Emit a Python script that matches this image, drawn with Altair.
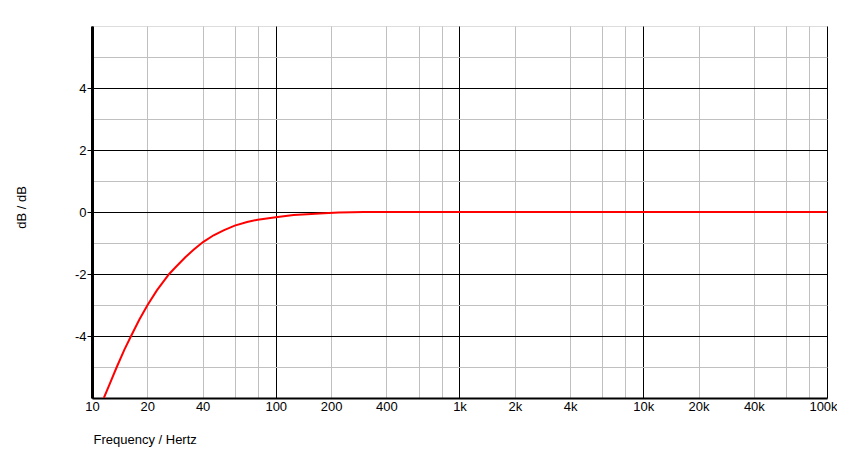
import altair as alt
import pandas as pd

# Frequency response (Hz, dB)
freq_hz = [11.6, 12.54, 13.64, 15.01, 16.32, 18.11, 20.03, 22.54, 26.3, 28.4, 32.2,
           35.7, 40.2, 45.9, 52.0, 59.8, 69.8, 79.8, 100.0, 125.0, 148.0, 183.0,
           220.0, 260.0, 300.0, 1000.0, 10000.0, 100000.0]
gain_db = [-6.0, -5.52, -5.0, -4.44, -4.0, -3.47, -3.01, -2.53, -2.0, -1.79, -1.46,
           -1.22, -0.97, -0.75, -0.59, -0.44, -0.32, -0.25, -0.17, -0.10, -0.07, -0.04,
           -0.02, -0.01, 0.0, 0.0, 0.0, 0.0]

x_grid_values = []
for dec in [10, 100, 1000, 10000]:
    for m in [1, 2, 4, 6, 8]:
        x_grid_values.append(dec * m)
x_grid_values.append(100000)
x_label_values = [10, 20, 40, 100, 200, 400, 1000, 2000, 4000, 10000, 20000, 40000, 100000]
x_major_values = [10, 100, 1000, 10000, 100000]

y_grid_values = [-5, -4, -3, -2, -1, 0, 1, 2, 3, 4, 5]
y_label_values = [-4, -2, 0, 2, 4]

df = pd.DataFrame({"f": freq_hz, "db": gain_db})

lab_list = ",".join(str(v) for v in x_label_values)
maj_list = ",".join(str(v) for v in x_major_values)
ylab_list = ",".join(str(v) for v in y_label_values)

x_label_expr = (
    f"indexof([{lab_list}], datum.value) >= 0 ? "
    "(datum.value >= 1000 ? (datum.value/1000) + 'k' : datum.value + '') : ''"
)
y_label_expr = f"indexof([{ylab_list}], datum.value) >= 0 ? datum.value + '' : ''"

FONT = "Arial, Liberation Sans, sans-serif"
FS = 13

x_axis = alt.Axis(
    values=x_grid_values,
    labelExpr=x_label_expr,
    labelOverlap=False,
    labelFlush=False,
    labelOffset=alt.condition("datum.value == 100000", alt.value(-4), alt.value(0)),
    ticks=False,
    tickSize=0,
    labelPadding=2,
    labelFont=FONT,
    labelFontSize=FS,
    labelColor="#000",
    grid=True,
    gridColor=alt.condition(f"indexof([{maj_list}], datum.value) >= 0",
                            alt.value("#000000"), alt.value("#c0c0c0")),
    gridWidth=1,
    domainColor="#000",
    domainWidth=2,
    title="Frequency / Hertz",
    titleFont=FONT,
    titleFontSize=FS,
    titleFontWeight="normal",
    titleColor="#000",
    titleAnchor="start",
    titleAlign="left",
    titleBaseline="alphabetic",
    titleX=1,
    titleY=45,
)

y_axis = alt.Axis(
    values=y_grid_values,
    labelExpr=y_label_expr,
    labelOverlap=False,
    labelFlush=False,
    ticks=True,
    tickSize=5,
    tickColor=alt.condition(f"indexof([{ylab_list}], datum.value) >= 0",
                            alt.value("#000000"), alt.value("transparent")),
    labelPadding=1,
    labelFont=FONT,
    labelFontSize=FS,
    labelColor="#000",
    labelBaseline="middle",
    grid=True,
    gridColor=alt.condition(f"indexof([{ylab_list}], datum.value) >= 0",
                            alt.value("#000000"), alt.value("#c0c0c0")),
    gridWidth=1,
    domainColor="#000",
    domainWidth=3,
    title="dB / dB",
    titleFont=FONT,
    titleFontSize=FS,
    titleFontWeight="normal",
    titleColor="#000",
    titleAngle=270,
    titleAlign="center",
    titleBaseline="middle",
    titleX=-71,
    titleY=181,
)

chart = alt.Chart(df).mark_line(color="#ff0000", strokeWidth=2, clip=True).encode(
    x=alt.X("f:Q", scale=alt.Scale(type="log", domain=[10, 100000], nice=False), axis=x_axis),
    y=alt.Y("db:Q", scale=alt.Scale(domain=[-6, 6], nice=False, zero=False), axis=y_axis),
).properties(
    width=735,
    height=372,
    autosize=alt.AutoSizeParams(type="none"),
    padding={"left": 84, "top": 18, "right": 10, "bottom": 50},
).configure_view(stroke=None).configure(background="#ffffff")

chart.save("out.html", embed_options={"renderer": "svg", "actions": False})
